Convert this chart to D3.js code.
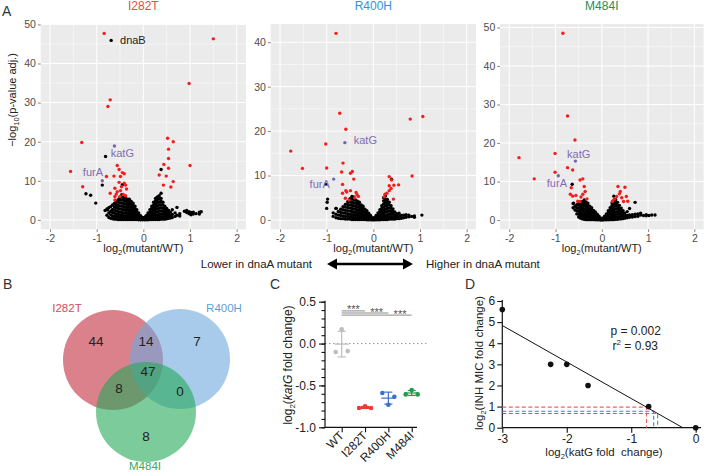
<!DOCTYPE html>
<html lang="en">
<head>
<meta charset="UTF-8">
<title>dnaA mutants</title>
<style>
  body { margin: 0; background: #fff; }
  svg { display: block; font-family: "Liberation Sans", Arial, sans-serif; }
</style>
</head>
<body>
<svg width="704" height="472"></svg>
<script src="https://d3js.org/d3.v7.min.js"></script>
<script>
// ---------- data: panel A (volcano plots) ----------
const mutants = ["I282T", "R400H", "M484I"];

// dense black cloud, one entry per log2FC column: [x, [-log10 p values]]
const cloudI282T = [
  [-0.82, [2.4]], [-0.78, [1.2, 2.8]], [-0.74, [0.6, 1.8, 3.1]], [-0.7, [0.4, 1.3, 2.2, 3.4]],
  [-0.66, [0.3, 1.0, 1.9, 2.7, 3.8]], [-0.62, [0.2, 0.9, 1.7, 2.5, 3.3, 4.2]],
  [-0.58, [0.2, 0.8, 1.5, 2.3, 3.1, 3.9, 4.7]], [-0.54, [0.1, 0.7, 1.4, 2.1, 2.9, 3.7, 4.5, 5.2]],
  [-0.5, [0.1, 0.6, 1.3, 2.0, 2.8, 3.6, 4.4, 5.2, 5.8]], [-0.46, [0.1, 0.6, 1.2, 1.9, 2.7, 3.5, 4.3, 5.1, 5.9, 6.5]],
  [-0.42, [0.1, 0.5, 1.1, 1.8, 2.6, 3.4, 4.2, 5.0, 5.7]], [-0.38, [0.1, 0.5, 1.0, 1.7, 2.4, 3.2, 4.0, 4.8, 5.5]],
  [-0.34, [0.1, 0.5, 1.1, 1.8, 2.5, 3.2, 3.9, 4.6, 5.3]], [-0.3, [0.1, 0.6, 1.2, 1.9, 2.6, 3.3, 4.0, 4.7, 5.3]],
  [-0.26, [0.1, 0.6, 1.2, 1.9, 2.6, 3.3, 4.0, 4.7]], [-0.22, [0.1, 0.5, 1.1, 1.7, 2.4, 3.1, 3.8, 4.3]],
  [-0.18, [0.1, 0.5, 1.0, 1.6, 2.2, 2.9, 3.5]], [-0.14, [0.1, 0.4, 0.9, 1.4, 2.0, 2.6]],
  [-0.1, [0.05, 0.4, 0.8, 1.3, 1.8]], [-0.06, [0.05, 0.35, 0.7, 1.1]], [-0.02, [0.02, 0.3, 0.6]],
  [0.02, [0.02, 0.3, 0.6]], [0.06, [0.05, 0.35, 0.7, 1.1]], [0.1, [0.05, 0.4, 0.8, 1.3, 1.8]],
  [0.14, [0.1, 0.4, 0.9, 1.4, 2.0, 2.6]], [0.18, [0.1, 0.5, 1.0, 1.6, 2.2, 2.9, 3.5]],
  [0.22, [0.1, 0.5, 1.1, 1.7, 2.4, 3.1, 3.8, 4.5]], [0.26, [0.1, 0.6, 1.2, 1.9, 2.6, 3.3, 4.0, 4.8, 5.5]],
  [0.3, [0.1, 0.6, 1.3, 2.0, 2.8, 3.6, 4.4, 5.2, 5.9]], [0.34, [0.1, 0.7, 1.4, 2.2, 3.0, 3.8, 4.6, 5.4, 6.2]],
  [0.38, [0.2, 0.8, 1.5, 2.3, 3.1, 3.9, 4.7, 5.5, 6.8]], [0.42, [0.2, 0.8, 1.5, 2.2, 3.0, 3.8, 4.5]],
  [0.46, [0.2, 0.8, 1.4, 2.1, 2.8, 3.5]], [0.5, [0.3, 0.9, 1.5, 2.2, 2.9]], [0.54, [0.4, 1.0, 1.7, 2.4]],
  [0.58, [0.5, 1.2, 2.0]], [0.62, [0.6, 1.4, 2.6]], [0.68, [0.9, 1.8]], [0.72, [1.2, 3.2]],
  [0.78, [1.0, 1.6]], [0.88, [2.2]], [0.93, [1.9, 2.4]], [0.98, [1.6, 2.1]], [1.02, [1.3, 1.9]],
  [1.07, [1.5, 2.0]], [1.13, [1.6]], [1.2, [1.5, 2.0]], [1.24, [2.1]]
];
const blackI282T = [[-0.69, 45.9], [-0.81, 16.2], [-0.88, 8.9], [-1.23, 6.7], [-1.13, 6.3], [-1.02, 4.3], [-0.77, 2.6], [0.38, 12.9], [-0.45, 9.0]];
const redI282T = [
  [-0.84, 47.7], [1.5, 46.3], [0.98, 34.9], [-0.71, 30.7], [-0.76, 29.0], [-1.32, 19.8], [0.52, 20.9], [0.64, 20.0],
  [1.0, 13.9], [-1.56, 12.4], [-1.3, 8.5], [0.54, 18.1], [0.54, 15.7], [0.44, 14.2], [0.54, 13.2], [0.34, 11.5],
  [0.49, 11.2], [0.64, 9.8], [0.43, 8.9], [0.59, 8.4], [-0.56, 13.9], [-0.52, 12.9], [-0.45, 12.1], [-0.41, 11.8],
  [-0.63, 11.2], [-0.79, 11.1], [-0.49, 11.1], [-0.52, 9.6], [-0.41, 9.4], [-0.38, 8.9], [-0.61, 8.1], [-0.49, 7.5],
  [-0.56, 7.2], [-0.71, 6.8], [-0.58, 6.6], [-0.61, 6.0], [-0.61, 5.1], [-0.47, 8.5], [-0.36, 7.9], [-0.43, 6.5],
  [-0.38, 6.2], [-0.5, 6.0]
];

const cloudR400H = [
  [-0.86, [0.8, 1.6]], [-0.8, [0.5, 1.3, 2.6]], [-0.75, [0.4, 1.1, 1.9]], [-0.7, [0.3, 1.0, 1.7, 2.4]],
  [-0.65, [0.3, 0.9, 1.6, 2.3, 3.0]], [-0.6, [0.2, 0.8, 1.5, 2.2, 2.9, 3.5]],
  [-0.55, [0.2, 0.8, 1.4, 2.1, 2.8, 3.5, 4.1]], [-0.5, [0.2, 0.7, 1.3, 2.0, 2.7, 3.4, 4.1, 4.8]],
  [-0.46, [0.1, 0.6, 1.2, 1.9, 2.6, 3.3, 4.0, 4.7, 5.3]], [-0.42, [0.1, 0.6, 1.2, 1.8, 2.5, 3.2, 3.9, 4.6, 5.2]],
  [-0.38, [0.1, 0.5, 1.1, 1.7, 2.4, 3.1, 3.8, 4.5]], [-0.34, [0.1, 0.5, 1.0, 1.6, 2.2, 2.9, 3.6, 4.2]],
  [-0.3, [0.1, 0.5, 1.0, 1.6, 2.2, 2.8, 3.4, 4.0]], [-0.26, [0.1, 0.5, 1.0, 1.6, 2.2, 2.8, 3.4]],
  [-0.22, [0.1, 0.5, 0.9, 1.4, 2.0, 2.6, 3.1]], [-0.18, [0.1, 0.4, 0.8, 1.3, 1.8, 2.4]],
  [-0.14, [0.05, 0.4, 0.8, 1.2, 1.7, 2.1]], [-0.1, [0.05, 0.35, 0.7, 1.1, 1.5]], [-0.06, [0.05, 0.3, 0.6, 1.0]],
  [-0.02, [0.02, 0.25, 0.5]], [0.02, [0.02, 0.25, 0.5]], [0.06, [0.05, 0.3, 0.6, 1.0]],
  [0.1, [0.05, 0.35, 0.7, 1.1, 1.6]], [0.14, [0.05, 0.4, 0.8, 1.3, 1.8, 2.3]],
  [0.18, [0.1, 0.4, 0.9, 1.4, 2.0, 2.6, 3.2]], [0.22, [0.1, 0.5, 1.0, 1.6, 2.2, 2.9, 3.6, 4.3, 5.0]],
  [0.26, [0.1, 0.5, 1.1, 1.8, 2.5, 3.2, 3.9, 4.6, 5.4]], [0.3, [0.1, 0.6, 1.2, 1.9, 2.6, 3.3, 4.0, 4.6]],
  [0.34, [0.2, 0.7, 1.3, 2.0, 2.7, 3.4, 4.0]], [0.38, [0.2, 0.7, 1.3, 1.9, 2.6, 3.2]],
  [0.42, [0.2, 0.7, 1.3, 1.9, 2.5]], [0.46, [0.2, 0.7, 1.2, 1.8]], [0.5, [0.3, 0.8, 1.4]], [0.55, [0.3, 0.9, 1.5]],
  [0.6, [0.4, 1.0]], [0.65, [0.5, 1.1]], [0.7, [0.6, 1.2]], [0.76, [0.7, 1.1]], [0.82, [0.8]], [0.88, [0.6, 0.9]],
  [1.04, [1.1]]
];
const blackR400H = [[-0.98, 4.7], [-0.99, 4.0], [-1.0, 2.6], [-0.8, 2.6], [-1.02, 8.0], [0.39, 9.15]];
const redR400H = [
  [-0.8, 42.0], [-0.72, 24.0], [-0.59, 20.4], [-1.02, 17.1], [-1.77, 15.5], [-1.52, 11.6], [-1.0, 11.7], [-0.65, 12.8],
  [-0.68, 10.8], [-0.45, 10.9], [-0.49, 10.5], [-0.42, 9.2], [-0.66, 8.0], [-0.59, 6.6], [-0.57, 6.3], [-0.66, 6.0],
  [-0.6, 4.9], [-0.52, 4.5], [-0.49, 6.6], [-0.37, 6.2], [-0.35, 5.7], [-0.32, 5.3], [-0.4, 5.0], [0.79, 22.7],
  [1.06, 23.3], [0.83, 9.9], [0.34, 9.75], [0.39, 9.0], [0.34, 7.7], [0.44, 7.8], [0.54, 7.9], [0.38, 7.1],
  [0.34, 6.6], [0.29, 6.0], [0.25, 5.8], [0.43, 4.7], [0.23, 5.2]
];

const cloudM484I = [
  [-0.62, [3.2, 4.3]], [-0.58, [2.6, 3.6]], [-0.54, [1.6, 2.4, 3.2, 4.0]], [-0.5, [0.8, 1.5, 2.3, 3.1, 3.9, 4.6]],
  [-0.46, [0.5, 1.2, 1.9, 2.7, 3.5, 4.3]], [-0.42, [0.3, 0.9, 1.6, 2.4, 3.2, 4.0, 4.8]],
  [-0.38, [0.2, 0.7, 1.4, 2.1, 2.9, 3.7, 4.5, 5.2]], [-0.34, [0.1, 0.6, 1.2, 1.9, 2.6, 3.4, 4.1, 4.7]],
  [-0.3, [0.1, 0.5, 1.1, 1.7, 2.4, 3.1, 3.8, 4.4]], [-0.26, [0.1, 0.5, 1.0, 1.6, 2.2, 2.9, 3.6]],
  [-0.22, [0.1, 0.5, 0.9, 1.4, 2.0, 2.6, 3.2]], [-0.18, [0.1, 0.4, 0.8, 1.3, 1.9, 2.5]],
  [-0.14, [0.05, 0.4, 0.8, 1.2, 1.7, 2.1]], [-0.1, [0.05, 0.35, 0.7, 1.1, 1.5]], [-0.06, [0.05, 0.3, 0.6, 1.0]],
  [-0.02, [0.02, 0.25, 0.5]], [0.02, [0.02, 0.25, 0.5]], [0.06, [0.05, 0.3, 0.6, 1.0]],
  [0.1, [0.05, 0.35, 0.7, 1.1, 1.6]], [0.14, [0.05, 0.4, 0.8, 1.3, 1.8, 2.4]],
  [0.18, [0.1, 0.4, 0.9, 1.4, 2.0, 2.6, 3.2]], [0.22, [0.1, 0.5, 1.0, 1.6, 2.3, 3.0, 3.7, 4.4]],
  [0.26, [0.1, 0.6, 1.2, 1.9, 2.6, 3.4, 4.2, 5.0, 6.2]], [0.3, [0.2, 0.7, 1.4, 2.1, 2.9, 3.7, 4.5, 5.3]],
  [0.34, [0.2, 0.8, 1.5, 2.2, 3.0, 3.8, 4.6]], [0.38, [0.3, 0.9, 1.6, 2.3, 3.0, 3.8]],
  [0.42, [0.3, 1.0, 1.7, 2.4, 3.1]], [0.46, [0.4, 1.0, 1.7, 2.4]], [0.5, [0.5, 1.1, 1.8]], [0.55, [0.6, 1.2, 2.2]],
  [0.6, [0.7, 1.3, 3.0]], [0.66, [0.8, 1.4]], [0.72, [0.9, 1.5, 4.6]], [0.78, [1.0, 1.6]], [0.84, [1.3, 1.8]],
  [0.9, [1.2]], [0.96, [1.1, 1.4]], [1.02, [1.2]], [1.08, [1.3]], [1.15, [1.3]]
];
const blackM484I = [[-0.64, 9.3], [-0.61, 4.4]];
const redM484I = [
  [-0.84, 48.5], [-0.74, 27.0], [-0.58, 20.8], [-1.01, 17.3], [-1.79, 16.2], [-1.46, 10.7], [-1.01, 12.4], [-0.74, 13.6],
  [-0.63, 13.0], [-0.41, 10.7], [-0.47, 10.4], [-0.38, 8.7], [-0.66, 8.4], [-0.68, 6.7], [-0.63, 6.2], [-0.36, 7.4],
  [-0.41, 6.7], [-0.45, 6.0], [-0.56, 6.4], [-0.52, 4.9], [-0.47, 4.8], [-0.32, 5.5], [0.35, 8.7], [0.5, 8.5],
  [0.4, 7.4], [0.38, 6.8], [0.32, 6.1], [0.53, 6.1], [0.56, 4.9], [0.47, 4.8], [0.27, 5.4], [0.23, 4.9], [0.43, 5.8]
];

// highlighted genes: [gene, x, y]
const genesI282T = [["katG", -0.62, 18.9], ["furA", -0.88, 10.0]];
const genesR400H = [["katG", -0.61, 17.4], ["furA", -0.85, 9.2]];
const genesM484I = [["katG", -0.57, 15.3], ["furA", -0.94, 11.5]];

// gene labels: [text, x, y, anchor, kind]
const labelsI282T = [["dnaB", -0.5, 46, "start", "black"], ["katG", -0.45, 17, "middle", "gene"], ["furA", -1.08, 12.2, "middle", "gene"]];
const labelsR400H = [["katG", -0.42, 18, "start", "gene"], ["furA", -1.15, 8.1, "middle", "gene"]];
const labelsM484I = [["katG", -0.5, 17.2, "middle", "gene"], ["furA", -0.97, 9.5, "middle", "gene"]];

// ---------- data: panel B (Venn counts) ----------
const vennRegions = ["I282T", "R400H", "M484I", "I282T&R400H", "I282T&M484I", "R400H&M484I", "all"];
const vennCounts = [44, 7, 8, 14, 8, 0, 47];

// ---------- data: panel C (katG qPCR) ----------
const cGroups = ["WT", "I282T", "R400H", "M484I"];
const cReplicates = [
  [-0.10, 0.17, -0.09],
  [-0.77, -0.75, -0.77],
  [-0.59, -0.73, -0.635],
  [-0.607, -0.556, -0.607]
];
const sigPairs = [["WT", "I282T"], ["WT", "R400H"], ["WT", "M484I"]];
const sigLevels = [0.39, 0.365, 0.34];
const sigText = ["***", "***", "***"];

// ---------- data: panel D (INH MIC vs katG) ----------
const katgFold = [-3, -2.25, -2, -1.67, -0.73, 0];
const inhMic = [5.6, 3, 3, 2, 1, 0];
const statP = "p = 0.002";
const statR2 = "0.93";

// ---------- drawing ----------
const svg = d3.select("svg");
const txt = "#222";
const mutColor = { I282T: "#ee4a42", R400H: "#3c8fd6", M484I: "#2b8c56" };
const hyphen = f => d => f(d).replace("\u2212", "-");

function label(x, y, s, size, opts = {}) {
  return svg.append("text").attr("x", x).attr("y", y).attr("font-size", size)
    .attr("fill", opts.fill || txt).attr("text-anchor", opts.anchor || "start").text(s);
}

// panel letters
label(2, 16, "A", 14, { fill: "#333" });
label(3, 289, "B", 14, { fill: "#333" });
label(270, 289, "C", 14, { fill: "#333" });
label(465, 289, "D", 14, { fill: "#333" });

function volcano(p) {
  const x = d3.scaleLinear().domain([-2.2, 2.2]).range([p.left, p.right]);
  const y = d3.scaleLinear().domain(p.yLim).range([229.3, 24]);
  const g = svg.append("g");
  g.append("rect").attr("x", p.left).attr("y", 24).attr("width", p.right - p.left)
    .attr("height", 229.3 - 24).attr("fill", "#EBEBEB");

  const xMajor = [-2, -1, 0, 1, 2], xMinor = [-1.5, -0.5, 0.5, 1.5];
  const yMinor = p.yTicks.map(v => v + 5).filter(v => v < p.yLim[1]);
  g.selectAll(".vmin").data(xMinor).join("line").attr("x1", x).attr("x2", x).attr("y1", 24).attr("y2", 229.3)
    .attr("stroke", "#fff").attr("stroke-width", 0.5);
  g.selectAll(".hmin").data(yMinor).join("line").attr("y1", y).attr("y2", y).attr("x1", p.left).attr("x2", p.right)
    .attr("stroke", "#fff").attr("stroke-width", 0.5);
  g.selectAll(".vmaj").data(xMajor).join("line").attr("x1", x).attr("x2", x).attr("y1", 24).attr("y2", 229.3)
    .attr("stroke", "#fff").attr("stroke-width", 1);
  g.selectAll(".hmaj").data(p.yTicks).join("line").attr("y1", y).attr("y2", y).attr("x1", p.left).attr("x2", p.right)
    .attr("stroke", "#fff").attr("stroke-width", 1);

  const ax = g.append("g").attr("transform", "translate(0,229.3)")
    .call(d3.axisBottom(x).tickValues(xMajor).tickSize(2.75).tickPadding(2).tickFormat(d => String(d)));
  const ay = g.append("g").attr("transform", `translate(${p.left},0)`)
    .call(d3.axisLeft(y).tickValues(p.yTicks).tickSize(2.75).tickPadding(2).tickFormat(d => String(d)));
  [ax, ay].forEach(a => {
    a.select(".domain").remove();
    a.selectAll("line").attr("stroke", "#333").attr("stroke-width", 0.6);
    a.selectAll("text").attr("fill", "#4D4D4D").attr("font-size", 10.5).attr("font-family", null);
  });

  const cloudPts = p.cloud.flatMap(([cx, ys]) => ys.map(v => [cx, v]));
  const pts = g.append("g");
  pts.selectAll(".b").data(cloudPts.concat(p.black)).join("circle")
    .attr("cx", d => x(d[0])).attr("cy", d => y(d[1])).attr("r", 1.7).attr("fill", "#000");
  pts.selectAll(".r").data(p.red).join("circle")
    .attr("cx", d => x(d[0])).attr("cy", d => y(d[1])).attr("r", 1.7).attr("fill", "#f41c1c");
  pts.selectAll(".p").data(p.genes).join("circle")
    .attr("cx", d => x(d[1])).attr("cy", d => y(d[2])).attr("r", 1.7).attr("fill", "#7a62b0");
  g.selectAll(".lab").data(p.labels).join("text")
    .attr("x", d => x(d[1])).attr("y", d => y(d[2])).attr("dy", "0.35em")
    .attr("text-anchor", d => d[3]).attr("font-size", 11)
    .attr("fill", d => d[4] === "gene" ? "#7f6bb4" : "#222").text(d => d[0]);

  // mutant title and x title
  label(x(0), 9.8, p.name, 12, { anchor: "middle", fill: mutColor[p.name] });
  const xt = svg.append("text").attr("x", x(0)).attr("y", 252).attr("text-anchor", "middle")
    .attr("font-size", 11).attr("fill", txt);
  xt.append("tspan").text("log");
  xt.append("tspan").attr("font-size", 7.5).attr("dy", 3).text("2");
  xt.append("tspan").attr("dy", -3).text("(mutant/WT)");
}

volcano({ name: mutants[0], left: 40.7, right: 246, yLim: [-2.4, 50.1], yTicks: [0, 10, 20, 30, 40, 50],
  cloud: cloudI282T, black: blackI282T, red: redI282T, genes: genesI282T, labels: labelsI282T });
volcano({ name: mutants[1], left: 270.7, right: 476, yLim: [-2.1, 44.1], yTicks: [0, 10, 20, 30, 40],
  cloud: cloudR400H, black: blackR400H, red: redR400H, genes: genesR400H, labels: labelsR400H });
volcano({ name: mutants[2], left: 500, right: 703.6, yLim: [-2.4, 50.9], yTicks: [0, 10, 20, 30, 40, 50],
  cloud: cloudM484I, black: blackM484I, red: redM484I, genes: genesM484I, labels: labelsM484I });

// y title of panel A
{
  const t = svg.append("text").attr("transform", "translate(16,100) rotate(-90)")
    .attr("text-anchor", "middle").attr("font-size", 11).attr("fill", txt);
  t.append("tspan").text("\u2212log");
  t.append("tspan").attr("font-size", 7.5).attr("dy", 3).text("10");
  t.append("tspan").attr("dy", -3).text("(p-value adj.)");
}

// direction arrow
label(312, 268, "Lower in dnaA mutant", 11.5, { anchor: "end" });
label(426, 268, "Higher in dnaA mutant", 11.5);
svg.append("line").attr("x1", 334).attr("x2", 406).attr("y1", 264).attr("y2", 264)
  .attr("stroke", "#000").attr("stroke-width", 2.6);
svg.append("path").attr("d", "M327,264 L337,258.5 L337,269.5 Z M413,264 L403,258.5 L403,269.5 Z").attr("fill", "#000");

// ---------- panel B: Venn ----------
const vennCircles = [
  { set: "I282T", cx: 113, cy: 360, fill: "#c22d3f", lab: [67, 312], labColor: "#d24c5c" },
  { set: "R400H", cx: 180, cy: 359, fill: "#6fa9dd", lab: [224, 312], labColor: "#5f9fd8" },
  { set: "M484I", cx: 146, cy: 412, fill: "#25a858", lab: [145, 470], labColor: "#36a862" }
];
svg.append("g").selectAll("circle").data(vennCircles).join("circle")
  .attr("cx", d => d.cx).attr("cy", d => d.cy).attr("r", 50)
  .attr("fill", d => d.fill).attr("fill-opacity", 0.6);
vennCircles.forEach(c => label(c.lab[0], c.lab[1], c.set, 11.5, { anchor: "middle", fill: c.labColor }));
const vennPos = { "I282T": [96, 346], "R400H": [197, 346], "M484I": [146, 441], "I282T&R400H": [146, 346],
  "I282T&M484I": [119, 393], "R400H&M484I": [180, 396], "all": [148, 376] };
vennRegions.forEach((r, i) => label(vennPos[r][0], vennPos[r][1], vennCounts[i], 13.5, { anchor: "middle" }));

// ---------- panel C ----------
{
  const cx = d3.scalePoint().domain(cGroups).range([341.7, 411.7]);
  const cy = d3.scaleLinear().domain([-1, 0.5]).range([427.3, 301.7]);
  const cCol = { WT: "#bdbdbd", I282T: "#ef3a36", R400H: "#3b6fca", M484I: "#1e9e4b" };
  const g = svg.append("g");

  g.append("line").attr("x1", 325).attr("x2", 428).attr("y1", cy(0)).attr("y2", cy(0))
    .attr("stroke", "#888").attr("stroke-width", 0.9).attr("stroke-dasharray", "1.5,2.5");

  const ayMinor = g.append("g").attr("transform", "translate(325,0)")
    .call(d3.axisLeft(cy).tickValues(d3.range(-1, 0.51, 0.1)).tickSize(3.5).tickFormat(""));
  const ay = g.append("g").attr("transform", "translate(325,0)")
    .call(d3.axisLeft(cy).tickValues([-1, -0.5, 0, 0.5]).tickSize(6).tickPadding(3).tickFormat(hyphen(d3.format(".1f"))));
  const ax = g.append("g").attr("transform", `translate(0,${cy(-1)})`)
    .call(d3.axisBottom(cx).tickSize(5).tickFormat(""));
  ax.select(".domain").attr("d", `M325,0H417`);
  [ayMinor, ay, ax].forEach(a => {
    a.selectAll("line").attr("stroke", "#111").attr("stroke-width", 1.1);
    a.select(".domain").attr("stroke", "#111").attr("stroke-width", 1.2);
    a.selectAll("text").attr("font-size", 12).attr("fill", txt).attr("font-family", null);
  });
  ayMinor.select(".domain").remove();
  ay.select(".domain").attr("d", `M0,${cy(-1)}V${cy(0.5) - 1}`);

  g.selectAll(".xl").data(cGroups).join("text")
    .attr("transform", d => `translate(${cx(d) + 3},${cy(-1) + 9}) rotate(-45)`)
    .attr("text-anchor", "end").attr("font-size", 12).attr("fill", txt).text(d => d);

  const stats = cGroups.map((grp, i) => ({ grp, m: d3.mean(cReplicates[i]), s: d3.deviation(cReplicates[i]) }));
  const eb = g.selectAll(".eb").data(stats).join("g").attr("stroke", d => cCol[d.grp]).attr("stroke-width", 1.2);
  eb.append("line").attr("x1", d => cx(d.grp)).attr("x2", d => cx(d.grp)).attr("y1", d => cy(d.m - d.s)).attr("y2", d => cy(d.m + d.s));
  eb.append("line").attr("x1", d => cx(d.grp) - 4).attr("x2", d => cx(d.grp) + 4).attr("y1", d => cy(d.m - d.s)).attr("y2", d => cy(d.m - d.s));
  eb.append("line").attr("x1", d => cx(d.grp) - 4).attr("x2", d => cx(d.grp) + 4).attr("y1", d => cy(d.m + d.s)).attr("y2", d => cy(d.m + d.s));
  eb.append("line").attr("x1", d => cx(d.grp) - 7).attr("x2", d => cx(d.grp) + 7).attr("y1", d => cy(d.m)).attr("y2", d => cy(d.m));

  const reps = cGroups.flatMap((grp, i) => cReplicates[i].map((v, j) => ({ grp, v, j })));
  g.selectAll(".rep").data(reps).join("circle")
    .attr("cx", d => cx(d.grp) + (d.j - 1) * 6).attr("cy", d => cy(d.v)).attr("r", 2.3)
    .attr("fill", d => cCol[d.grp]);

  sigPairs.forEach((pr, i) => {
    g.append("line").attr("x1", cx(pr[0])).attr("x2", cx(pr[1])).attr("y1", cy(sigLevels[i])).attr("y2", cy(sigLevels[i]))
      .attr("stroke", "#8a8a8a").attr("stroke-width", 1);
    const mid = (cx(cGroups[i]) + cx(cGroups[i + 1])) / 2;
    g.append("text").attr("x", mid).attr("y", cy(sigLevels[i]) + 2.5).attr("text-anchor", "middle")
      .attr("font-size", 11).attr("fill", "#555").text(sigText[i]);
  });

  const t = svg.append("text").attr("transform", "translate(292,365) rotate(-90)")
    .attr("text-anchor", "middle").attr("font-size", 12).attr("fill", txt);
  t.append("tspan").text("log");
  t.append("tspan").attr("font-size", 8).attr("dy", 3).text("2");
  t.append("tspan").attr("dy", -3).text("(");
  t.append("tspan").attr("font-style", "italic").text("katG");
  t.append("tspan").text(" fold change)");

  // ---------- panel D ----------
  const dx = d3.scaleLinear().domain([-3, 0]).range([502.3, 695.7]);
  const dy = d3.scaleLinear().domain([0, 6]).range([427.7, 301]);
  const gd = svg.append("g");
  const dax = gd.append("g").attr("transform", `translate(0,${dy(0)})`)
    .call(d3.axisBottom(dx).tickValues([-3, -2, -1, 0]).tickSize(5).tickPadding(2).tickFormat(d => String(d)));
  dax.select(".domain").attr("d", `M${dx(-3)},0H701`);
  const day = gd.append("g").attr("transform", `translate(${dx(-3)},0)`)
    .call(d3.axisLeft(dy).tickValues([0, 1, 2, 3, 4, 5, 6]).tickSize(5).tickPadding(2).tickFormat(d => String(d)));
  day.select(".domain").attr("d", `M0,${dy(0)}V${dy(6) - 1}`);
  [dax, day].forEach(a => {
    a.selectAll("line").attr("stroke", "#111").attr("stroke-width", 1.1);
    a.select(".domain").attr("stroke", "#111").attr("stroke-width", 1.2);
    a.selectAll("text").attr("font-size", 12).attr("fill", txt).attr("font-family", null);
  });

  const mx = d3.mean(katgFold), my = d3.mean(inhMic);
  const sxy = d3.sum(katgFold, (v, i) => (v - mx) * (inhMic[i] - my));
  const sxx = d3.sum(katgFold, v => (v - mx) * (v - mx));
  const slope = sxy / sxx, icpt = my - slope * mx;
  const fit = v => slope * v + icpt;

  const dCol = { I282T: "#f0625e", R400H: "#3d7fd9", M484I: "#2ea36a" };
  stats.slice(1).forEach(s => {
    gd.append("path")
      .attr("d", `M${dx(-3)},${dy(fit(s.m))}H${dx(s.m)}V${dy(0)}`)
      .attr("fill", "none").attr("stroke", dCol[s.grp]).attr("stroke-width", 1.1).attr("stroke-dasharray", "4,2.5");
  });
  gd.append("line").attr("x1", dx(-3)).attr("y1", dy(fit(-3))).attr("x2", dx(-icpt / slope)).attr("y2", dy(0))
    .attr("stroke", "#111").attr("stroke-width", 1);
  gd.selectAll(".pt").data(katgFold).join("circle")
    .attr("cx", d => dx(d)).attr("cy", (d, i) => dy(inhMic[i])).attr("r", 2.8).attr("fill", "#111");

  label(610.5, 335, statP, 12);
  const r2 = svg.append("text").attr("x", 612.5).attr("y", 349.5).attr("font-size", 12).attr("fill", txt);
  r2.append("tspan").text("r");
  r2.append("tspan").attr("font-size", 8).attr("dy", -5).text("2");
  r2.append("tspan").attr("dy", 5).text(" = " + statR2);

  const dyt = svg.append("text").attr("transform", "translate(483,363) rotate(-90)")
    .attr("text-anchor", "middle").attr("font-size", 11.5).attr("fill", txt);
  dyt.append("tspan").text("log");
  dyt.append("tspan").attr("font-size", 7.5).attr("dy", 3).text("2");
  dyt.append("tspan").attr("dy", -3).text("(INH MIC  fold change)");
  const dxt = svg.append("text").attr("x", 604).attr("y", 456).attr("text-anchor", "middle")
    .attr("font-size", 11.5).attr("fill", txt).attr("xml:space", "preserve");
  dxt.append("tspan").text("log");
  dxt.append("tspan").attr("font-size", 7.5).attr("dy", 3).text("2");
  dxt.append("tspan").attr("dy", -3).text("(katG fold  change)");
}
</script>
</body>
</html>
